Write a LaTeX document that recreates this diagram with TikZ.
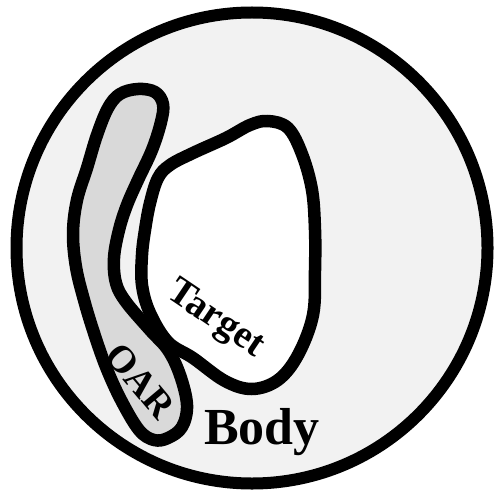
\documentclass[tikz,border=0pt]{standalone}
\usepackage{fontspec}
\setmainfont{Liberation Serif}
\definecolor{bodyfill}{HTML}{F2F2F2}
\definecolor{oarfill}{HTML}{D9D9D9}
\begin{document}
\begin{tikzpicture}[x=1pt,y=-1pt,line join=round,
  outline/.style={draw=black,line width=12.5pt},
  lbl/.style={font=\bfseries,inner sep=0pt}]
\useasboundingbox (0,0) rectangle (497,489);
% body
\draw[outline,line width=12pt,fill=bodyfill] (252,248) circle[radius=235.5pt];
% OAR
\draw[outline,fill=oarfill] plot[smooth cycle,tension=0.6] coordinates {
 (138,89) (155,92) (163,104) (161,122) (152,150) (138,180) (127,205)
 (119,230) (114,258) (116,283) (126,302) (150,330) (168,350) (180,375)
 (187,405) (182,427) (168,438) (154,440) (139,430) (121,400) (106,367)
 (94,333) (84,300) (76,267) (73,233) (77,200) (87,168) (97,135)
 (108,108) (120,94)};
% Target
\draw[outline,fill=white] plot[smooth cycle,tension=0.6] coordinates {
 (268,121) (288,128) (302,154) (312,190) (315,230) (315,270) (313,315)
 (298,355) (278,380) (252,389) (225,381) (193,358) (168,342) (150,313)
 (142,285) (142,255) (145,230) (150,203) (158,178) (170,165) (193,153)
 (226,138) (250,125)};
% labels
\node[lbl,rotate=-34,font=\bfseries\fontsize{39}{39}\selectfont] (target) at (215,320) {Target};
\node[lbl,rotate=-50,font=\bfseries\fontsize{38}{38}\selectfont] (oar) at (140,381) {OAR};
\node[lbl,anchor=base west,font=\bfseries\fontsize{52}{52}\selectfont] (body) at (204,444) {Body};
\end{tikzpicture}
\end{document}
